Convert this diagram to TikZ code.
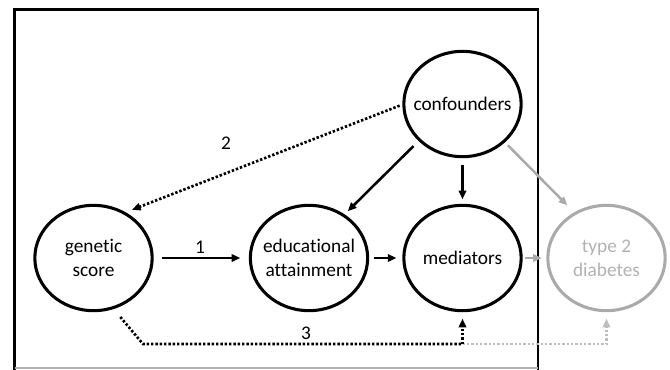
\documentclass[tikz,border=0pt]{standalone}
\usepackage{fontspec}
\setmainfont[Ligatures=NoCommon]{Carlito}
\usetikzlibrary{shapes.geometric,arrows.meta}
\definecolor{lgray}{HTML}{AAAAAA}
\definecolor{tgray}{HTML}{B2B2B2}
\definecolor{dgray}{HTML}{BDBDBD}
\begin{document}
\begin{tikzpicture}[x=0.75pt,y=-0.75pt,
  var/.style={ellipse,draw,line width=2.3pt,minimum width=88pt,minimum height=79pt,
    inner xsep=-22pt,inner ysep=0pt,outer sep=0pt,align=center,font=\fontsize{14.5}{18}\selectfont},
  gvar/.style={var,draw=lgray,text=tgray},
  arr/.style={-{Triangle[length=6.5pt,width=5.5pt]},line width=1.9pt},
  garr/.style={arr,draw=lgray,color=lgray},
  dots/.style={line width=2pt,dash pattern=on 1.8pt off 1.45pt},
  lbl/.style={font=\fontsize{14.5}{18}\selectfont,inner sep=0pt}]
\useasboundingbox (0,0) rectangle (670,369);
% frame
\draw[line width=2pt] (14.5,372) -- (14.5,9.5) -- (538,9.5) -- (538,372);
\draw[line width=0.8pt,color=black!30] (14.5,368) -- (538,368);
% nodes
\node[var] (gen) at (93.5,258) {genetic\\score};
\node[var] (edu) at (309,258) {educational\\attainment};
\node[var] (med) at (462.5,258) {mediators};
\node[gvar] (t2d) at (606.5,258) {type 2\\diabetes};
\node[var] (conf) at (462.5,104) {confounders};
% solid arrows
\draw[arr,shorten <=7.5pt,shorten >=7.5pt] (gen) -- (edu);
\draw[arr,shorten <=5pt,shorten >=5.5pt] (edu) -- (med);
\draw[arr,shorten <=6.5pt,shorten >=4.5pt] (conf.220) -- (edu.51);
\draw[arr,shorten <=6pt,shorten >=4.5pt] (conf.south) -- (med.north);
\draw[garr,shorten <=4.2pt,shorten >=8.5pt] (conf.-42) -- (t2d.125.7);
\draw[garr,shorten <=3pt,shorten >=4.5pt] (med) -- (t2d);
% dotted arrows
\draw[dots,-{Triangle[length=6.5pt,width=5.5pt]},shorten <=3.4pt,shorten >=6.5pt] (conf.west) -- (gen.56);
\coordinate (c3a) at (143,344);
\coordinate (c3b) at (med.south |- c3a);
\coordinate (c3c) at (t2d.south |- c3a);
\draw[dots,color=dgray,-{Triangle[length=6.5pt,width=5.5pt]},shorten >=6pt] (c3b) -- (c3c) -- (t2d.south);
\draw[dots,shorten <=9pt] (gen.-69.5) -- (c3a) -- (c3b);
\draw[dots,-{Triangle[length=6.5pt,width=5.5pt]},shorten >=6pt] (c3b) -- (med.south);
% labels
\node[lbl] (l1) at (200,247) {1};
\node[lbl] (l2) at (226,143) {2};
\node[lbl] (l3) at (306,333) {3};
\end{tikzpicture}
\end{document}
